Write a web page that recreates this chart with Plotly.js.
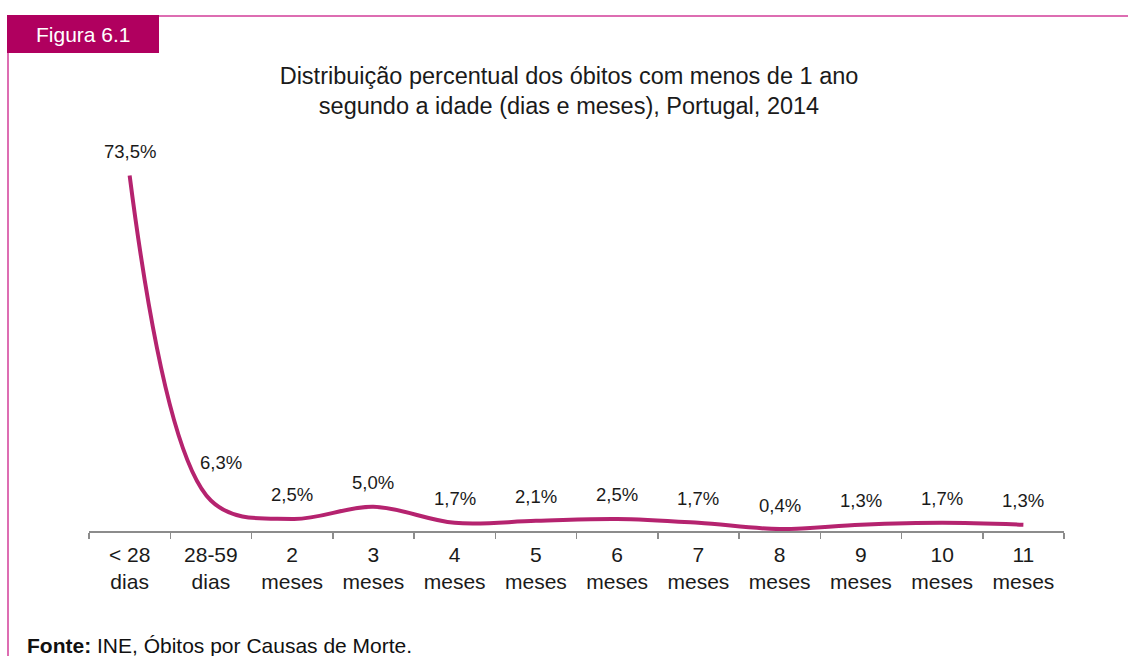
<!DOCTYPE html>
<html>
<head>
<meta charset="utf-8">
<script src="https://cdn.plot.ly/plotly-3.0.1.min.js"></script>
<style>html,body{margin:0;padding:0;background:#fff;}#chart{width:1128px;height:656px;}</style>
</head>
<body>
<div id="chart"></div>
<script>
// ---- data ----
var categories = ["<28d", "28-59d", "2m", "3m", "4m", "5m", "6m", "7m", "8m", "9m", "10m", "11m"];
var tickLabels = ["&lt; 28<br>dias", "28-59<br>dias", "2<br>meses", "3<br>meses", "4<br>meses", "5<br>meses",
                  "6<br>meses", "7<br>meses", "8<br>meses", "9<br>meses", "10<br>meses", "11<br>meses"];
var values = [73.5, 6.3, 2.5, 5.0, 1.7, 2.1, 2.5, 1.7, 0.4, 1.3, 1.7, 1.3];
var valueLabels = ["73,5%", "6,3%", "2,5%", "5,0%", "1,7%", "2,1%", "2,5%", "1,7%", "0,4%", "1,3%", "1,7%", "1,3%"];

// ---- layout helpers (pixel -> paper) ----
var W = 1128, H = 656;
var M = {l: 89, r: 64, t: 144, b: 125};
var pw = W - M.l - M.r, ph = H - M.t - M.b;
function px(x) { return (x - M.l) / pw; }
function py(y) { return (H - M.b - y) / ph; }

var FONT = "Liberation Sans, Arial, sans-serif";
var lineColor = "#B5236F";
var frameColor = "#D23C98";
var badgeColor = "#B0005F";

var annotations = values.map(function (v, i) {
  var special = (i === 1);
  return {
    x: categories[i], y: v, xref: "x", yref: "y",
    text: valueLabels[i], showarrow: false,
    xanchor: "center", yanchor: "middle",
    xshift: special ? 10 : 0, yshift: special ? 38 : 24,
    font: {family: FONT, size: 18.5, color: "#1a1a1a"}
  };
});

annotations.push({
  xref: "paper", yref: "paper", x: px(83), y: py(34),
  text: "Figura 6.1", showarrow: false, xanchor: "center", yanchor: "middle",
  font: {family: FONT, size: 21, color: "#ffffff"}
});
annotations.push({
  xref: "paper", yref: "paper", x: px(25), y: py(645),
  text: "<b>Fonte:</b> INE, Óbitos por Causas de Morte.", showarrow: false,
  xanchor: "left", yanchor: "middle",
  font: {family: FONT, size: 21, color: "#111111"}
});

var shapes = [
  {type: "rect", xref: "paper", yref: "paper", x0: px(7), x1: px(159), y0: py(15), y1: py(53),
   fillcolor: badgeColor, line: {width: 0}, layer: "below"},
  {type: "line", xref: "paper", yref: "paper", x0: px(159), x1: px(1130), y0: py(16), y1: py(16),
   line: {color: frameColor, width: 1.5}},
  {type: "line", xref: "paper", yref: "paper", x0: px(8), x1: px(8), y0: py(53), y1: py(660),
   line: {color: frameColor, width: 1.5}}
];

var trace = {
  type: "scatter", mode: "lines",
  x: categories, y: values,
  line: {color: lineColor, width: 4, shape: "spline", smoothing: 1},
  hoverinfo: "skip", showlegend: false, cliponaxis: false
};

var layout = {
  width: W, height: H,
  margin: M,
  paper_bgcolor: "#ffffff", plot_bgcolor: "#ffffff",
  font: {family: FONT, color: "#1a1a1a"},
  title: {
    text: "Distribuição percentual dos óbitos com menos de 1 ano<br>segundo a idade (dias e meses), Portugal, 2014",
    font: {family: FONT, size: 23.5, color: "#1a1a1a"},
    xref: "container", yref: "container", x: 569 / W, y: 1 - 83.5 / H,
    xanchor: "center", yanchor: "middle"
  },
  xaxis: {
    type: "category", range: [-0.5, 11.5], fixedrange: true,
    tickmode: "array", tickvals: categories, ticktext: tickLabels,
    tickson: "boundaries", ticks: "outside", ticklen: 6, tickcolor: "#8c8c8c", tickwidth: 1.5,
    showline: true, linecolor: "#8c8c8c", linewidth: 1.5,
    showgrid: false, zeroline: false,
    tickfont: {family: FONT, size: 21, color: "#1a1a1a"},
    ticklabelstandoff: 4
  },
  yaxis: {
    range: [0, 80], visible: false, showgrid: false, zeroline: false, fixedrange: true
  },
  annotations: annotations,
  shapes: shapes
};

Plotly.newPlot("chart", [trace], layout, {displayModeBar: false, staticPlot: true});
</script>
</body>
</html>
